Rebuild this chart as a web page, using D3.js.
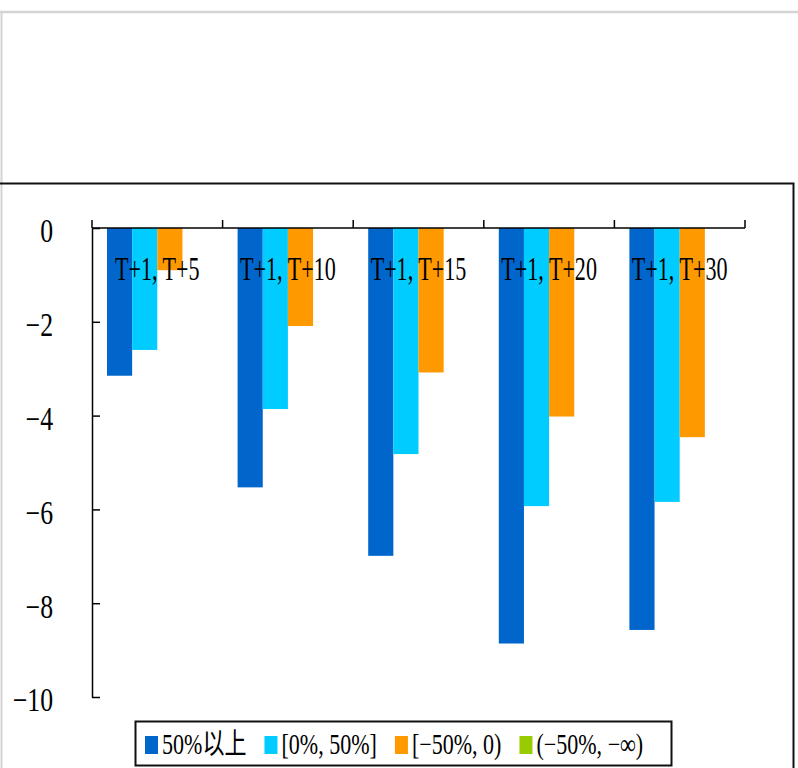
<!DOCTYPE html>
<html lang="zh">
<head>
    <meta charset="UTF-8">
    <title>Chart</title>
    <script src="https://cdn.jsdelivr.net/npm/d3@7"></script>
    <style>
        body { margin: 0; background: #fff; }
        text { font-family: "Liberation Serif", "Noto Sans CJK JP", serif; fill: #000; }
    </style>
</head>
<body>
<script>
    // data
    const categories = ['T+1, T+5', 'T+1, T+10', 'T+1, T+15', 'T+1, T+20', 'T+1, T+30']
    const seriesNames = ['50%以上', '[0%, 50%]', '[−50%, 0)', '(−50%, −∞)']
    const seriesColors = ['#0066cc', '#00ccff', '#ff9900', '#99cc00']
    const s1 = [-3.15, -5.53, -6.99, -8.86, -8.57]
    const s2 = [-2.60, -3.86, -4.82, -5.93, -5.84]
    const s3 = [-0.90, -2.09, -3.08, -4.02, -4.46]
    const s4 = [null, null, null, null, null]
    const yTicks = [0, -2, -4, -6, -8, -10]

    const series = [s1, s2, s3, s4]
    const [width, height] = [798, 768]

    const svg = d3.select('body').append('svg')
        .attr('width', width)
        .attr('height', height)

    // outer frames
    svg.append('line').attr('x1', 0).attr('x2', width).attr('y1', 12).attr('y2', 12)
        .attr('stroke', '#d4d4d4').attr('stroke-width', 2.5)
    svg.append('line').attr('x1', 1.5).attr('x2', 1.5).attr('y1', 12).attr('y2', height)
        .attr('stroke', '#d4d4d4').attr('stroke-width', 2)
    svg.append('path').attr('d', `M0,183.5H793.5V${height}`)
        .attr('fill', 'none').attr('stroke', '#111').attr('stroke-width', 2)

    const x0 = d3.scaleBand().domain(categories).range([92, 745])
    const x1 = d3.scaleBand().domain(d3.range(4)).range([15, x0.bandwidth() - 15])
    const y = d3.scaleLinear().domain([-10, 0]).range([697, 228])

    // bars
    const groups = svg.append('g').selectAll('g').data(categories).enter()
        .append('g').attr('transform', c => `translate(${x0(c)},0)`)
    groups.selectAll('rect')
        .data((c, i) => series.map((s, k) => ({k: k, v: s[i]})).filter(d => d.v !== null))
        .enter().append('rect')
        .attr('x', d => x1(d.k))
        .attr('width', x1.bandwidth())
        .attr('y', y(0))
        .attr('height', d => y(d.v) - y(0))
        .attr('fill', d => seriesColors[d.k])

    // y axis
    const sy = 0.78
    const yAxis = svg.append('g').attr('transform', 'translate(92,0)')
        .call(d3.axisLeft(y).tickValues(yTicks).tickSizeInner(-8).tickSizeOuter(0).tickPadding(39)
            .tickFormat(d => d === 0 ? '0' : '−' + Math.abs(d)))
    yAxis.select('.domain').attr('stroke', '#000').attr('stroke-width', 1.5)
    yAxis.selectAll('.tick line').attr('stroke', '#000').attr('stroke-width', 1.5)
    yAxis.selectAll('.tick text')
        .attr('font-family', '"Liberation Serif", serif')
        .attr('font-size', 33)
        .attr('x', -39 / sy)
        .attr('dy', '0.42em')
        .attr('transform', `scale(${sy},1)`)

    // x axis at zero with upward boundary ticks
    const xAxis = svg.append('g')
    xAxis.append('line').attr('x1', x0.range()[0]).attr('x2', x0.range()[1])
        .attr('y1', y(0)).attr('y2', y(0)).attr('stroke', '#000').attr('stroke-width', 1.5)
    const bounds = categories.map(c => x0(c)).concat([x0.range()[1]])
    xAxis.selectAll('line.tk').data(bounds).enter().append('line').attr('class', 'tk')
        .attr('x1', d => d).attr('x2', d => d)
        .attr('y1', y(0)).attr('y2', y(0) - 8)
        .attr('stroke', '#000').attr('stroke-width', 1.5)

    // category labels
    svg.append('g').selectAll('text').data(categories).enter().append('text')
        .attr('transform', c => `translate(${x0(c) + x0.bandwidth() / 2},280) scale(0.67,1)`)
        .attr('text-anchor', 'middle')
        .attr('font-size', 33)
        .text(c => c)

    // legend
    const legend = svg.append('g')
    legend.append('rect').attr('x', 135.5).attr('y', 721.5).attr('width', 536).attr('height', 44)
        .attr('fill', '#fff').attr('stroke', '#111').attr('stroke-width', 2)
    let lx = 145
    const sl = 0.76
    seriesNames.forEach((name, k) => {
        legend.append('rect').attr('x', lx).attr('y', 736).attr('width', 13).attr('height', 18)
            .attr('fill', seriesColors[k])
        const t = legend.append('text')
            .attr('transform', `translate(${lx + 17},754) scale(${sl},1)`)
            .attr('font-size', 29)
            .text(name)
        const w = t.node().getComputedTextLength() * sl
        lx += 17 + w + 18
    })
</script>
</body>
</html>
